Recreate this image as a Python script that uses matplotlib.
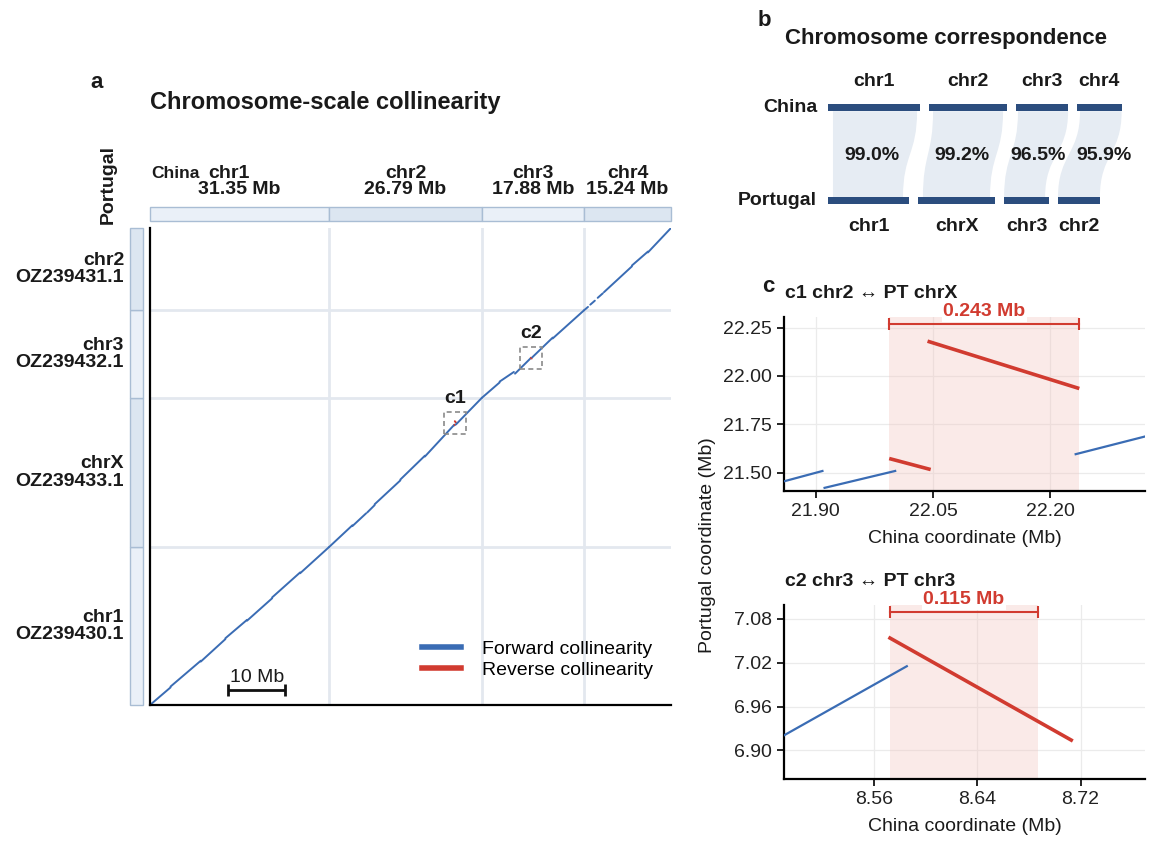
import numpy as np
import matplotlib
matplotlib.use("Agg")
import matplotlib.pyplot as plt
import matplotlib.transforms as mtransforms
from matplotlib.patches import Rectangle, PathPatch
from matplotlib.path import Path
from matplotlib.lines import Line2D
from matplotlib.ticker import FormatStrFormatter

plt.rcParams['font.family'] = ['Liberation Sans', 'DejaVu Sans']

# ---- data ----
china_chrs = ['chr1', 'chr2', 'chr3', 'chr4']
china_len = [31.35, 26.79, 17.88, 15.24]
# Portugal chromosomes, bottom to top in the dot plot
pt_chrs = ['chr1', 'chrX', 'chr3', 'chr2']
pt_acc = ['OZ239430.1', 'OZ239433.1', 'OZ239432.1', 'OZ239431.1']
pt_len = [27.8, 26.3, 15.4, 14.5]
identity_pct = [99.0, 99.2, 96.5, 95.9]

# collinear blocks (china_start, china_end, pt_start, pt_end), Mb, local coords
blocks_chr1_chr1 = [
    (0.0, 3.6, 0.0, 3.1),
    (3.6, 8.9, 3.25, 7.8),
    (8.9, 13.2, 7.65, 11.6),
    (13.2, 17.0, 11.75, 15.0),
    (17.0, 21.4, 14.85, 18.8),
    (21.4, 26.3, 18.95, 23.35),
    (26.3, 31.35, 23.2, 27.8),
]
blocks_chr2_chrX = [
    (0.0, 4.1, 0.0, 3.85),
    (4.1, 6.5, 3.7, 5.95),
    (6.7, 8.0, 6.1, 7.4),
    (8.0, 12.5, 7.55, 11.75),
    (12.5, 16.8, 11.9, 16.1),
    (16.8, 21.91, 15.95, 21.51),
    (21.91, 22.003, 21.42, 21.51),
    (21.994, 22.047, 21.573, 21.516),
    (22.043, 22.237, 22.18, 21.935),
    (22.231, 26.79, 21.594, 26.3),
]
blocks_chr3_chr3 = [
    (0.0, 3.1, 0.0, 2.7),
    (3.1, 5.6, 2.85, 4.55),
    (5.8, 8.586, 4.25, 7.016),
    (8.571, 8.714, 7.055, 6.913),
    (8.80, 12.4, 7.11, 10.6),
    (12.4, 17.88, 10.45, 15.4),
]
blocks_chr4_chr2 = [
    (0.0, 0.7, 0.0, 0.6),
    (1.1, 1.9, 1.0, 1.7),
    (2.4, 3.3, 2.2, 3.0),
    (3.5, 8.4, 3.2, 7.75),
    (8.4, 11.2, 7.9, 10.35),
    (11.2, 15.24, 10.2, 14.5),
]
pair_blocks = [blocks_chr1_chr1, blocks_chr2_chrX, blocks_chr3_chr3, blocks_chr4_chr2]
pair_pt_index = [0, 1, 2, 3]

# zoom windows c1 / c2
zoom_names = ['c1', 'c2']
zoom_china_idx = [1, 2]
zoom_china_center = [22.09, 8.63]
zoom_pt_center = [21.86, 6.98]
inversion_span = [(21.994, 22.237), (8.572, 8.687)]

# aligned spans for the ribbons in panel b (local Mb)
ribbon_china = [(1.7, 30.4), (1.5, 25.4), (0.7, 17.8), (1.0, 15.2)]
ribbon_pt = [(1.7, 25.6), (1.6, 24.5), (0.0, 14.0), (0.0, 14.3)]

scale_bar_mb = 10

# ---- style ----
FWD = '#3a6cb4'
REV = '#d13b30'
STRIP_FILL = ['#eaf0f8', '#dce6f1']
STRIP_EDGE = '#a9bdd4'
GRID = '#e3e8ef'
BAR = '#2b4d7e'
RIBBON = '#e6ecf3'
TXT = '#1a1a1a'

W, H = 1162, 849
fig = plt.figure(figsize=(W / 100, H / 100), dpi=100)


def add_ax(x0, y0, x1, y1):
    return fig.add_axes([x0 / W, 1 - y1 / H, (x1 - x0) / W, (y1 - y0) / H])


def ftext(x, y, s, **kw):
    return fig.text(x / W, 1 - y / H, s, color=kw.pop('color', TXT), **kw)


china_off = np.concatenate([[0], np.cumsum(china_len)[:-1]])
pt_off = np.concatenate([[0], np.cumsum(pt_len)[:-1]])
china_total = sum(china_len)
pt_total = sum(pt_len)

# ================= panel a =================
ax = add_ax(150, 228, 671, 705)
ax.set_xlim(0, china_total)
ax.set_ylim(0, pt_total)
for b in china_off[1:]:
    ax.axvline(b, color=GRID, lw=2, zorder=0)
for b in pt_off[1:]:
    ax.axhline(b, color=GRID, lw=2, zorder=0)

for i, blocks in enumerate(pair_blocks):
    cx0 = china_off[i]
    py0 = pt_off[pair_pt_index[i]]
    for c0, c1, p0, p1 in blocks:
        col = FWD if p1 >= p0 else REV
        ax.plot([cx0 + c0, cx0 + c1], [py0 + p0, py0 + p1], color=col, lw=1.4,
                solid_capstyle='round')

half = 1.9
for k, name in enumerate(zoom_names):
    ci = zoom_china_idx[k]
    gx = china_off[ci] + zoom_china_center[k]
    gy = pt_off[pair_pt_index[ci]] + zoom_pt_center[k]
    ax.add_patch(Rectangle((gx - half, gy - half), 2 * half, 2 * half, fill=False,
                           ec='#8a8a8a', lw=1.2, ls=(0, (3, 2)), zorder=3))
    ax.annotate(name, xy=(gx, gy + half), xytext=(0, 4), textcoords='offset points',
                ha='center', va='bottom', fontsize=14, fontweight='bold', color=TXT)

for s in ['top', 'right']:
    ax.spines[s].set_visible(False)
for s in ['left', 'bottom']:
    ax.spines[s].set_linewidth(1.6)
ax.set_xticks([])
ax.set_yticks([])

# scale bar
sb_x, sb_y = 13.7, 2.6
ax.plot([sb_x, sb_x + scale_bar_mb], [sb_y, sb_y], color='#111111', lw=2,
        marker='|', ms=8, mew=2, solid_capstyle='butt')
ax.text(sb_x + scale_bar_mb / 2, sb_y + 0.8, f'{scale_bar_mb} Mb', ha='center', va='bottom',
        fontsize=14, color=TXT)

handles = [Line2D([], [], color=FWD, lw=4), Line2D([], [], color=REV, lw=4)]
ax.legend(handles, ['Forward collinearity', 'Reverse collinearity'], loc='upper left',
          bbox_to_anchor=(422 / W, 1 - 640 / H), bbox_transform=fig.transFigure,
          frameon=False, fontsize=14, handlelength=2.0, handletextpad=1.1,
          labelspacing=0.2, borderpad=0, borderaxespad=0)

# top strip
axt = add_ax(150, 207, 671, 221)
axt.set_xlim(0, china_total)
axt.set_ylim(0, 1)
axt.axis('off')
for i in range(len(china_chrs)):
    axt.add_patch(Rectangle((china_off[i], 0), china_len[i], 1, fc=STRIP_FILL[i % 2],
                            ec=STRIP_EDGE, lw=1, clip_on=False))

# left strip
axl = add_ax(130, 228, 143, 705)
axl.set_ylim(0, pt_total)
axl.set_xlim(0, 1)
axl.axis('off')
for j in range(len(pt_chrs)):
    axl.add_patch(Rectangle((0, pt_off[j]), 1, pt_len[j], fc=STRIP_FILL[j % 2],
                            ec=STRIP_EDGE, lw=1, clip_on=False))

# header labels
blend_x = mtransforms.blended_transform_factory(ax.transData, fig.transFigure)
name_nudge = [-1.8, 0, 0, 0]
for i, c in enumerate(china_chrs):
    cx = china_off[i] + china_len[i] / 2
    ax.text(cx + name_nudge[i], 1 - 173 / H, c, transform=blend_x, ha='center', va='center',
            fontsize=14, fontweight='bold', color=TXT)
    ax.text(cx, 1 - 190 / H, f'{china_len[i]:.2f} Mb', transform=blend_x, ha='center',
            va='center', fontsize=14, fontweight='bold', color=TXT)
ftext(151, 173, 'China', ha='left', va='center', fontsize=12.5, fontweight='bold')
ftext(108, 185, 'Portugal', ha='center', va='center', rotation=90, fontsize=14,
      fontweight='bold')

blend_y = mtransforms.blended_transform_factory(fig.transFigure, ax.transData)
for j, c in enumerate(pt_chrs):
    cy = pt_off[j] + pt_len[j] / 2
    ax.annotate(c, xy=(124 / W, cy), xycoords=blend_y, xytext=(0, 6.3),
                textcoords='offset points', ha='right', va='center', fontsize=14,
                fontweight='bold', color=TXT, annotation_clip=False)
    ax.annotate(pt_acc[j], xy=(124 / W, cy), xycoords=blend_y, xytext=(0, -6.3),
                textcoords='offset points', ha='right', va='center', fontsize=14,
                fontweight='bold', color=TXT, annotation_clip=False)

ftext(97, 83, 'a', ha='center', va='center', fontsize=16, fontweight='bold')
ftext(150, 102, 'Chromosome-scale collinearity', ha='left', va='center', fontsize=17,
      fontweight='bold')

# ================= panel b =================
px_per_mb = 2.93
b_gap = 3.0
axb = add_ax(828, 60, 1140, 240)
axb.set_xlim(0, 312 / px_per_mb)
axb.set_ylim(240, 60)
axb.axis('off')

china_b = np.concatenate([[0], np.cumsum(np.array(china_len) + b_gap)[:-1]])
pt_b = np.concatenate([[0], np.cumsum(np.array(pt_len) + b_gap)[:-1]])
y_top, y_bot = 107.7, 200.7
axb.broken_barh(list(zip(china_b, china_len)), (y_top - 3.5, 7), fc=BAR)
axb.broken_barh(list(zip(pt_b, pt_len)), (y_bot - 3.5, 7), fc=BAR)

pct_nudge = [0, 0, 1.4, 4.8]
rt, rb = y_top + 3.5, y_bot - 3.5
mid = (rt + rb) / 2
for i in range(len(china_chrs)):
    j = pair_pt_index[i]
    tx0, tx1 = china_b[i] + ribbon_china[i][0], china_b[i] + ribbon_china[i][1]
    bx0, bx1 = pt_b[j] + ribbon_pt[i][0], pt_b[j] + ribbon_pt[i][1]
    verts = [(tx0, rt), (tx1, rt), (tx1, mid), (bx1, mid), (bx1, rb), (bx0, rb),
             (bx0, mid), (tx0, mid), (tx0, rt), (tx0, rt)]
    codes = [Path.MOVETO, Path.LINETO, Path.CURVE4, Path.CURVE4, Path.CURVE4, Path.LINETO,
             Path.CURVE4, Path.CURVE4, Path.CURVE4, Path.CLOSEPOLY]
    axb.add_patch(PathPatch(Path(verts, codes), fc=RIBBON, ec='none', zorder=0))
    cx = (tx0 + tx1 + bx0 + bx1) / 4 + pct_nudge[i]
    axb.text(cx, 155.3, f'{identity_pct[i]:.1f}%', ha='center', va='center', fontsize=14,
             fontweight='bold', color=TXT)
    axb.text(china_b[i] + china_len[i] / 2, 81.7, china_chrs[i], ha='center', va='center',
             fontsize=14, fontweight='bold', color=TXT)
for j in range(len(pt_chrs)):
    axb.text(pt_b[j] + pt_len[j] / 2, 226.7, pt_chrs[j], ha='center', va='center',
             fontsize=14, fontweight='bold', color=TXT)

ftext(817, y_top, 'China', ha='right', va='center', fontsize=14, fontweight='bold')
ftext(817, y_bot, 'Portugal', ha='right', va='center', fontsize=14, fontweight='bold')
ftext(764, 20.7, 'b', ha='center', va='center', fontsize=16, fontweight='bold')
ftext(785, 38.3, 'Chromosome correspondence', ha='left', va='center', fontsize=16,
      fontweight='bold')

# ================= panel c =================
c_rects = [(784, 317, 1145, 491), (784, 605, 1145, 779)]
c_xlim = [(21.8595, 22.321), (8.490, 8.770)]
c_ylim = [(21.405, 22.305), (6.861, 7.099)]
c_xticks = [[21.90, 22.05, 22.20], [8.56, 8.64, 8.72]]
c_yticks = [[21.50, 21.75, 22.00, 22.25], [6.90, 6.96, 7.02, 7.08]]
c_title_y = [294, 581]

for k, name in enumerate(zoom_names):
    axc = add_ax(*c_rects[k])
    ci = zoom_china_idx[k]
    for c0, c1, p0, p1 in pair_blocks[ci]:
        fwd = p1 >= p0
        axc.plot([c0, c1], [p0, p1], color=FWD if fwd else REV, lw=1.6 if fwd else 2.6,
                 solid_capstyle='butt', zorder=3)
    s, e = inversion_span[k]
    axc.axvspan(s, e, fc='#f2c4bf', alpha=0.35, lw=0, zorder=1)
    axc.set_xlim(*c_xlim[k])
    axc.set_ylim(*c_ylim[k])
    axc.set_xticks(c_xticks[k])
    axc.set_yticks(c_yticks[k])
    axc.xaxis.set_major_formatter(FormatStrFormatter('%.2f'))
    axc.yaxis.set_major_formatter(FormatStrFormatter('%.2f'))
    axc.grid(True, color='#ebebeb', lw=0.9)
    axc.set_axisbelow(True)
    for sp in ['top', 'right']:
        axc.spines[sp].set_visible(False)
    for sp in ['left', 'bottom']:
        axc.spines[sp].set_linewidth(1.6)
    axc.tick_params(length=5, width=1.2, labelsize=14, labelcolor='#222222')
    axc.set_xlabel('China coordinate (Mb)', fontsize=14, labelpad=7, color=TXT)

    tr = mtransforms.blended_transform_factory(axc.transData, axc.transAxes)
    axc.plot([s, e], [0.958, 0.958], transform=tr, color=REV, lw=1.5, marker='|', ms=9,
             mew=1.5, clip_on=False, zorder=4)
    axc.text((s + e) / 2, 1.03, f'{e - s:.3f} Mb', transform=tr, ha='center', va='center',
             color=REV, fontsize=14, fontweight='bold', zorder=5,
             bbox=dict(fc='white', ec='none', pad=1))
    ftext(785, c_title_y[k], f'{name} {china_chrs[ci]} \u2194 PT {pt_chrs[pair_pt_index[ci]]}',
          ha='left', va='center', fontsize=14, fontweight='bold')

ftext(768, 287, 'c', ha='center', va='center', fontsize=16, fontweight='bold')
ftext(707, 545, 'Portugal coordinate (Mb)', ha='center', va='center', rotation=90,
      fontsize=14)

fig.savefig('out.png', dpi=100)
